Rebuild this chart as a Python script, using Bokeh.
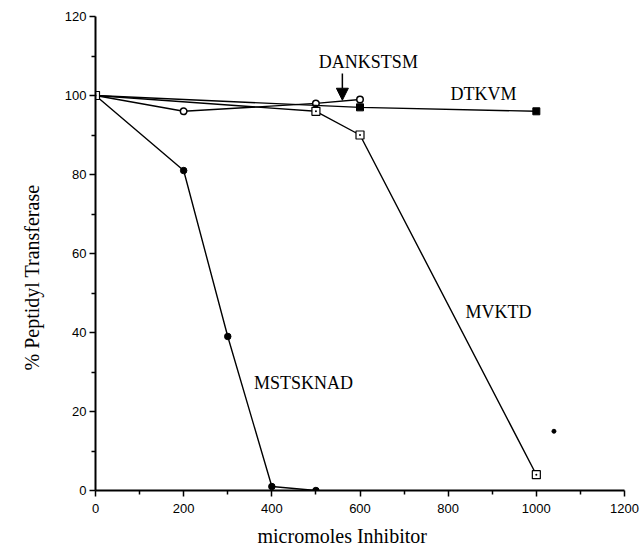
from bokeh.plotting import figure
from bokeh.models import FixedTicker, Range1d, Label, Arrow, NormalHead, Title
from bokeh.embed import file_html
from bokeh.resources import INLINE

# Data
mstsknad_x = [0, 200, 300, 400, 500]
mstsknad_y = [100, 81, 39, 1, 0]

dankstsm_x = [0, 200, 500, 600]
dankstsm_y = [100, 96, 98, 99]

dtkvm_x = [0, 600, 1000]
dtkvm_y = [100, 97, 96]

mvktd_x = [0, 500, 600, 1000]
mvktd_y = [100, 96, 90, 4]

stray_x = [1040]
stray_y = [15]

x_ticks = [0, 200, 400, 600, 800, 1000, 1200]
x_minor = [100, 300, 500, 700, 900, 1100]
y_ticks = [0, 20, 40, 60, 80, 100, 120]
y_minor = [10, 30, 50, 70, 90, 110]

SERIF = "Liberation Serif"
SANS = "Liberation Sans"

p = figure(width=641, height=554, output_backend="svg", toolbar_location=None,
           x_range=Range1d(0, 1200), y_range=Range1d(0, 120),
           min_border_left=95, min_border_right=17, min_border_top=16, min_border_bottom=64)
p.outline_line_color = None
p.grid.visible = False
p.background_fill_color = "white"
p.border_fill_color = "white"

for ax, ticks, minor in [(p.xaxis[0], x_ticks, x_minor), (p.yaxis[0], y_ticks, y_minor)]:
    ax.ticker = FixedTicker(ticks=ticks, minor_ticks=minor)
    ax.axis_line_width = 2
    ax.axis_line_color = "black"
    ax.major_tick_line_color = "black"
    ax.minor_tick_line_color = "black"
    ax.major_tick_line_width = 1.5
    ax.minor_tick_line_width = 1.5
    ax.major_tick_in = 0
    ax.major_tick_out = 6
    ax.minor_tick_in = 0
    ax.minor_tick_out = 4
    ax.major_label_text_font = SANS
    ax.major_label_text_font_size = "13px"
    ax.major_label_text_color = "black"

p.xaxis.major_label_standoff = 7
p.yaxis.major_label_standoff = 3

# Axis titles as Title panels (allow off-centre placement like the original)
xt = Title(text="micromoles Inhibitor", align="left", offset=162, standoff=15,
           text_font=SERIF, text_font_size="20px", text_font_style="normal", text_color="black")
p.add_layout(xt, "below")
yt = Title(text="% Peptidyl Transferase", align="left", offset=120, standoff=37,
           text_font=SERIF, text_font_size="20px", text_font_style="normal", text_color="black")
p.add_layout(yt, "left")

lw = 1.4
p.line(mstsknad_x, mstsknad_y, line_color="black", line_width=lw)
p.scatter(mstsknad_x, mstsknad_y, marker="circle", size=6.5, fill_color="black", line_color="black")

p.line(dankstsm_x, dankstsm_y, line_color="black", line_width=lw)
p.scatter(dankstsm_x, dankstsm_y, marker="circle", size=6.5, fill_color="white", line_color="black", line_width=1.5)

p.line(dtkvm_x, dtkvm_y, line_color="black", line_width=lw)
p.scatter(dtkvm_x, dtkvm_y, marker="square", size=7, fill_color="black", line_color="black")

p.line(mvktd_x, mvktd_y, line_color="black", line_width=lw)
p.scatter(mvktd_x, mvktd_y, marker="square_dot", size=8, fill_color="white", line_color="black", line_width=1.2)

p.scatter(stray_x, stray_y, marker="circle", size=4, fill_color="black", line_color="black")

for txt, x, y in [("DANKSTSM", 619, 108.4), ("DTKVM", 880, 100.4), ("MVKTD", 914, 45.3), ("MSTSKNAD", 472, 27.3)]:
    p.add_layout(Label(x=x, y=y, text=txt, text_font=SERIF, text_font_size="18px",
                       text_align="center", text_baseline="middle", text_color="black"))

p.add_layout(Arrow(x_start=560, y_start=105.6, x_end=560, y_end=98.8, line_width=1.5, line_color="black",
                   end=NormalHead(size=12, fill_color="black", line_color="black")))

open("out.html", "w").write(file_html(p, INLINE))
